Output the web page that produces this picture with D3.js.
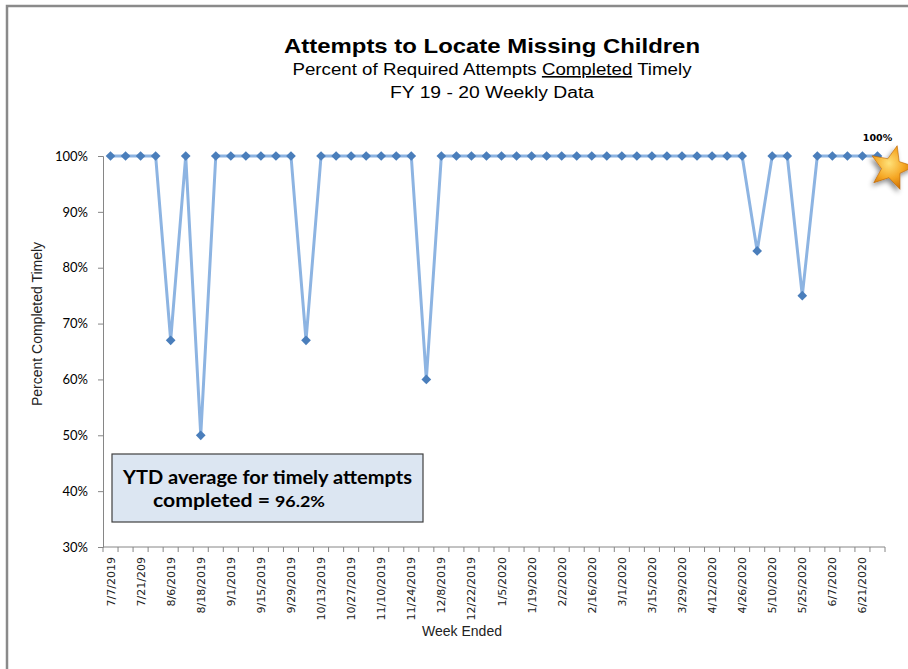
<!DOCTYPE html>
<html>
<head>
<meta charset="utf-8">
<script src="https://cdn.jsdelivr.net/npm/d3@7"></script>
<style>
  body { margin: 0; background: #fff; }
  svg { display: block; }
</style>
</head>
<body>
<div id="chart"></div>
<script>
// weekly data, FY 19-20
var weeks = ["7/7/2019","7/14/2019","7/21/209","7/28/2019","8/6/2019","8/11/2019","8/18/2019","8/25/2019",
  "9/1/2019","9/8/2019","9/15/2019","9/22/2019","9/29/2019","10/6/2019","10/13/2019","10/20/2019",
  "10/27/2019","11/3/2019","11/10/2019","11/17/2019","11/24/2019","12/1/2019","12/8/2019","12/15/2019",
  "12/22/2019","12/29/2019","1/5/2020","1/12/2020","1/19/2020","1/26/2020","2/2/2020","2/9/2020",
  "2/16/2020","2/23/2020","3/1/2020","3/8/2020","3/15/2020","3/22/2020","3/29/2020","4/5/2020",
  "4/12/2020","4/19/2020","4/26/2020","5/3/2020","5/10/2020","5/17/2020","5/25/2020","5/31/2020",
  "6/7/2020","6/14/2020","6/21/2020","6/28/2020"];
var pct = [1,1,1,1,0.67,1,0.50,1,1,1,1,1,1,0.67,1,1,1,1,1,1,1,0.60,1,1,1,1,
  1,1,1,1,1,1,1,1,1,1,1,1,1,1,1,1,1,0.83,1,1,0.75,1,1,1,1,1];
var yTicks = [0.3,0.4,0.5,0.6,0.7,0.8,0.9,1.0];
var ytdText = "YTD average for timely attempts";
var ytdValue = "96.2%";

var W = 908, H = 669;
var svg = d3.select("#chart").append("svg").attr("width", W).attr("height", H);

var defs = svg.append("defs");
var grad = defs.append("radialGradient").attr("id", "starGrad")
  .attr("cx", "40%").attr("cy", "40%").attr("r", "65%");
grad.append("stop").attr("offset", "0%").attr("stop-color", "#ffe27a");
grad.append("stop").attr("offset", "55%").attr("stop-color", "#f5a623");
grad.append("stop").attr("offset", "100%").attr("stop-color", "#c96a00");
var shadow = defs.append("filter").attr("id", "shadow").attr("x", "-50%").attr("y", "-50%")
  .attr("width", "200%").attr("height", "200%");
shadow.append("feDropShadow").attr("dx", -2).attr("dy", 3).attr("stdDeviation", 2.5)
  .attr("flood-color", "#000").attr("flood-opacity", 0.45);

// outer frame
svg.append("rect").attr("x", 7).attr("y", 6).attr("width", 1000).attr("height", 1000)
  .attr("fill", "none").attr("stroke", "#8a8a8a").attr("stroke-width", 2.5);

// titles
svg.append("text").attr("x", 492).attr("y", 53).attr("text-anchor", "middle")
  .style("font-family", "Liberation Sans, Arial, sans-serif").style("font-weight", "bold")
  .style("font-size", "21px").attr("fill", "#000")
  .attr("textLength", 416).attr("lengthAdjust", "spacingAndGlyphs")
  .text("Attempts to Locate Missing Children");
var sub = svg.append("text").attr("x", 492).attr("y", 75).attr("text-anchor", "middle")
  .style("font-family", "Liberation Sans, Arial, sans-serif")
  .style("font-size", "16px").attr("fill", "#000")
  .attr("textLength", 399).attr("lengthAdjust", "spacingAndGlyphs");
sub.append("tspan").text("Percent of Required Attempts ");
sub.append("tspan").style("text-decoration", "underline").text("Completed");
sub.append("tspan").text(" Timely");
svg.append("text").attr("x", 492).attr("y", 98).attr("text-anchor", "middle")
  .style("font-family", "Liberation Sans, Arial, sans-serif")
  .style("font-size", "16px").attr("fill", "#000")
  .attr("textLength", 204).attr("lengthAdjust", "spacingAndGlyphs")
  .text("FY 19 - 20  Weekly Data");

// scales
var x = d3.scaleBand().domain(weeks).range([103, 885]).paddingInner(0).paddingOuter(0);
var y = d3.scaleLinear().domain([0.3, 1]).range([547, 156]);
var cx = function(d, i) { return x(weeks[i]) + x.bandwidth() / 2; };

// y axis
var yAxis = svg.append("g").attr("class", "y axis").attr("transform", "translate(103,0)")
  .call(d3.axisLeft(y).tickValues(yTicks).tickSize(5).tickPadding(10)
    .tickFormat(function(d) { return Math.round(d * 100) + "%"; }));
yAxis.select(".domain").attr("stroke", "#868686");
yAxis.selectAll(".tick line").attr("stroke", "#868686");
yAxis.selectAll("text").style("font-family", "Lato, sans-serif").style("font-size", "13px")
  .attr("fill", "#000");

// x axis: ticks between categories
var xAxis = svg.append("g").attr("class", "x axis").attr("transform", "translate(0,547)");
xAxis.append("line").attr("x1", 103).attr("x2", 885).attr("y1", 0).attr("y2", 0)
  .attr("stroke", "#868686");
xAxis.selectAll(".tk").data(weeks.concat(["end"])).enter().append("line")
  .attr("x1", function(d, i) { return i < weeks.length ? x(d) : 885; })
  .attr("x2", function(d, i) { return i < weeks.length ? x(d) : 885; })
  .attr("y1", 0).attr("y2", 5).attr("stroke", "#868686");
xAxis.selectAll(".lbl").data(weeks.filter(function(d, i) { return i % 2 === 0; }))
  .enter().append("text")
  .attr("transform", function(d) {
    return "translate(" + (x(d) + x.bandwidth() / 2 + 4) + ",10) rotate(-90)";
  })
  .attr("text-anchor", "end")
  .style("font-family", "DejaVu Sans, Verdana, sans-serif").style("font-size", "11px")
  .attr("fill", "#222")
  .text(function(d) { return d; });

// axis titles
svg.append("text").attr("x", 462).attr("y", 636).attr("text-anchor", "middle")
  .style("font-family", "Liberation Sans, Arial, sans-serif").style("font-size", "14px")
  .attr("fill", "#222").text("Week Ended");
svg.append("text").attr("transform", "translate(42,324) rotate(-90)").attr("text-anchor", "middle")
  .style("font-family", "Liberation Sans, Arial, sans-serif").style("font-size", "14px")
  .attr("fill", "#222").text("Percent Completed Timely");

// line + markers
var line = d3.line().x(function(d, i) { return cx(d, i); }).y(function(d) { return y(d); });
svg.append("path").datum(pct).attr("d", line).attr("fill", "none")
  .attr("stroke", "#8db4e2").attr("stroke-width", 3).attr("stroke-linejoin", "round");
svg.append("g").selectAll("path").data(pct).enter().append("path")
  .attr("d", d3.symbol().type(d3.symbolDiamond2).size(60)())
  .attr("transform", function(d, i) { return "translate(" + cx(d, i) + "," + y(d) + ")"; })
  .attr("fill", "#4a7ebb");

// YTD box
var box = svg.append("g");
box.append("rect").attr("x", 112).attr("y", 454).attr("width", 311).attr("height", 68)
  .attr("fill", "#dce6f2").attr("stroke", "#404040").attr("stroke-width", 1.2);
box.append("text").attr("x", 123).attr("y", 484)
  .style("font-family", "Lato, sans-serif").style("font-weight", "bold").style("font-size", "18px")
  .attr("fill", "#000").attr("textLength", 289).attr("lengthAdjust", "spacingAndGlyphs")
  .text(ytdText);
var l2 = box.append("text").attr("x", 153).attr("y", 507)
  .style("font-family", "Lato, sans-serif").style("font-weight", "bold").attr("fill", "#000");
l2.append("tspan").style("font-size", "19px").attr("textLength", 117)
  .attr("lengthAdjust", "spacingAndGlyphs").text("completed =");
l2.append("tspan").attr("x", 275).style("font-size", "16px").attr("textLength", 50)
  .attr("lengthAdjust", "spacingAndGlyphs").text(ytdValue);

// star on last point
var last = pct.length - 1;
var sx = cx(pct[last], last) + 14, sy = y(pct[last]) + 12;
var starPts = d3.range(10).map(function(k) {
  var r = k % 2 === 0 ? 23 : 10;
  var a = -Math.PI / 2 + 0.25 + k * Math.PI / 5;
  return [sx + r * Math.cos(a), sy + r * Math.sin(a)];
});
svg.append("path").attr("d", "M" + starPts.join("L") + "Z")
  .attr("fill", "url(#starGrad)").attr("stroke", "#b86200").attr("stroke-width", 0.6)
  .attr("filter", "url(#shadow)");
svg.append("text").attr("x", cx(pct[last], last)).attr("y", y(pct[last]) - 15)
  .attr("text-anchor", "middle")
  .style("font-family", "DejaVu Sans, Verdana, sans-serif").style("font-weight", "bold")
  .style("font-size", "9.5px").attr("fill", "#000")
  .text(Math.round(pct[last] * 100) + "%");
</script>
</body>
</html>
